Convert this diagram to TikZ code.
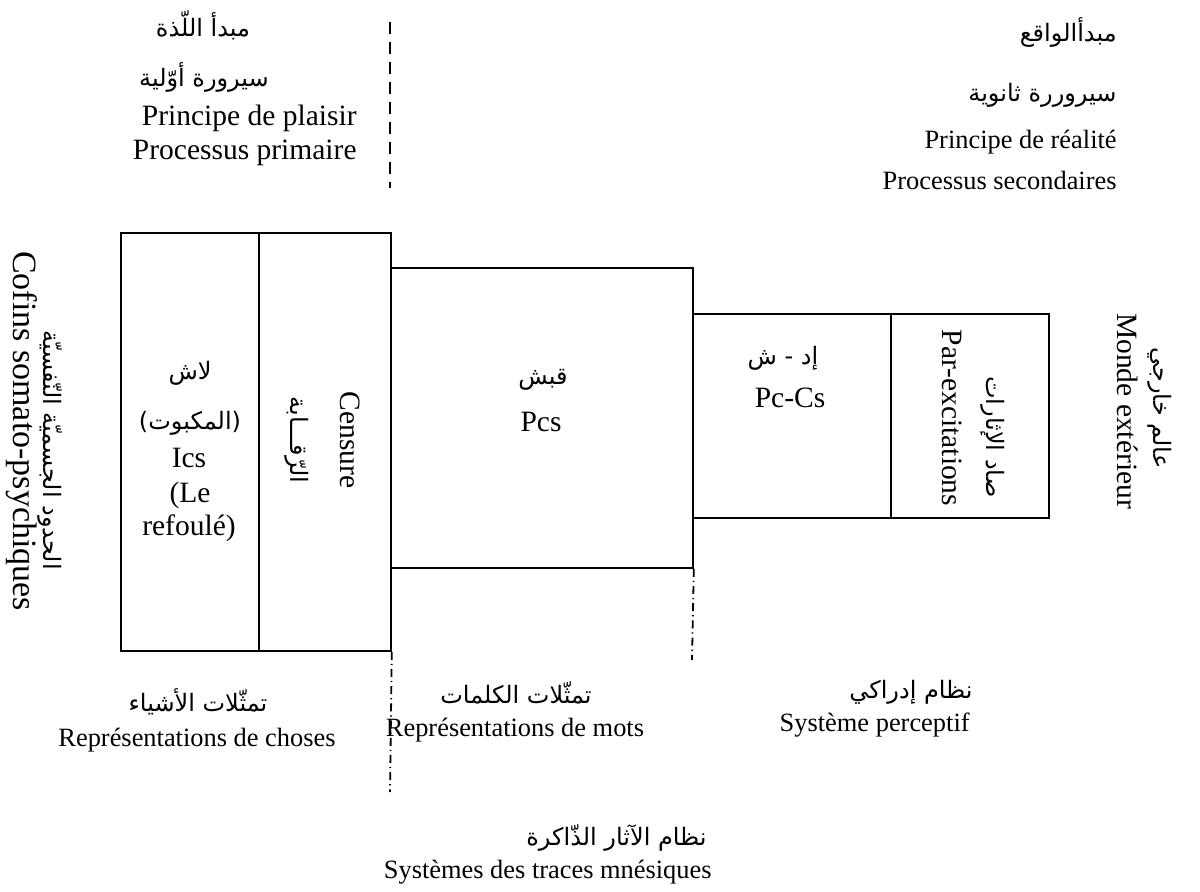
\documentclass[tikz,border=0pt]{standalone}
\usepackage{fontspec}
\setmainfont{Liberation Serif}
\newfontfamily\arabicfont[Script=Arabic]{DejaVu Sans}
\TeXXeTstate=1
\begin{document}
\begin{tikzpicture}[x=0.5pt,y=-0.5pt,
  cell/.style={draw, line width=0.9pt, anchor=north west, inner sep=0pt},
  fr/.style={font=\fontsize{14.75}{17}\selectfont, inner sep=0pt},
  frs/.style={font=\fontsize{13.2}{15}\selectfont, inner sep=0pt},
  frl/.style={font=\fontsize{17}{19}\selectfont, inner sep=0pt},
  ar/.style={font=\fontsize{12}{14}\selectfont\arabicfont, inner sep=0pt},
  topdash/.style={line width=0.9pt, dash pattern=on 6pt off 4pt},
  dashdot/.style={line width=0.9pt, dash pattern=on 4pt off 2pt on 0.6pt off 2pt}]
\useasboundingbox (0,0) rectangle (1200,892);

% boxes
\node[cell, minimum width=69pt, minimum height=209pt] (ics) at (120,232) {};
\node[cell, minimum width=66pt, minimum height=209pt] (cens) at (258,232) {};
\node[cell, minimum width=151pt, minimum height=150pt] (pcs) at (390,267) {};
\node[cell, minimum width=99pt, minimum height=102pt] (pccs) at (692,313) {};
\node[cell, minimum width=79pt, minimum height=102pt] (pare) at (890,313) {};

% dividing lines
\coordinate (topA) at (390,22);
\coordinate (topB) at (390,188);
\draw[topdash] (topA) -- (topB);
\coordinate (botA) at (390,792);
\draw[dashdot] (cens.south east) -- (botA);
\coordinate (botB) at (692,660);
\draw[dashdot] (pcs.south east) -- (botB);

% top left
\node[ar] (pl1) at (203,25) {\beginR مبدأ اللّذة\endR};
\node[ar] (pl2) at (204,77) {\beginR سيرورة أوّلية\endR};
\node[fr, anchor=east] (pl3) at (357,118) {Principe de plaisir};
\node[fr, anchor=east] (pl4) at (357,153) {Processus primaire};

% top right
\node[ar, anchor=east] (re1) at (1117,32) {\beginR مبدأالواقع\endR};
\node[ar, anchor=east] (re2) at (1117,95) {\beginR سيروررة ثانوية\endR};
\node[frs, anchor=east] (re3) at (1117,142) {Principe de réalité};
\node[frs, anchor=east] (re4) at (1117,180) {Processus secondaires};

% left rotated
\node[frl, rotate=-90] (cof) at (22,431) {Cofins somato-psychiques};
\node[ar, rotate=-90] (cofa) at (50,450) {\beginR الحدود الجسميّة النّفسيّة\endR};

% box 1
\node[ar] (i1) at (190,373) {\beginR لاش\endR};
\node[ar] (i2) at (190,423) {\beginR (المكبوت)\endR};
\node[fr] (i3) at (189,458) {Ics};
\node[fr] (i4) at (190,495) {(Le};
\node[fr] (i5) at (189,528) {refoulé)};

% box 2
\node[ar, rotate=-90] (c1) at (297,440) {\beginR الرّقـــابة\endR};
\node[fr, rotate=-90] (c2) at (350,440) {Censure};

% box 3
\node[ar] (p1) at (543,380) {\beginR قبش\endR};
\node[fr] (p2) at (541,422) {Pcs};

% box 4
\node[ar] (q1) at (783,358) {\beginR إد - ش\endR};
\node[fr] (q2) at (790,398) {Pc-Cs};

% box 5
\node[ar, rotate=-90] (e1) at (993,437) {\beginR صاد الإثارات\endR};
\node[fr, rotate=-90] (e2) at (952,418) {Par-excitations};

% right rotated
\node[ar, rotate=-90] (m1) at (1160,408) {\beginR عالم خارجي\endR};
\node[fr, rotate=-90] (m2) at (1128,411) {Monde extérieur};

% bottom
\node[ar] (b1) at (198,702) {\beginR تمثّلات الأشياء\endR};
\node[frs] (b2) at (197,740) {Représentations de choses};
\node[ar] (b3) at (516,693) {\beginR تمثّلات الكلمات\endR};
\node[frs] (b4) at (515,730) {Représentations de mots};
\node[ar, anchor=east] (b5) at (973,692) {\beginR نظام إدراكي\endR};
\node[frs, anchor=east] (b6) at (970,725) {Système perceptif};
\node[ar, anchor=east] (b7) at (707,838) {\beginR نظام الآثار الذّاكرة\endR};
\node[frs, anchor=east] (b8) at (712,872) {Systèmes des traces mnésiques};
\end{tikzpicture}
\end{document}
